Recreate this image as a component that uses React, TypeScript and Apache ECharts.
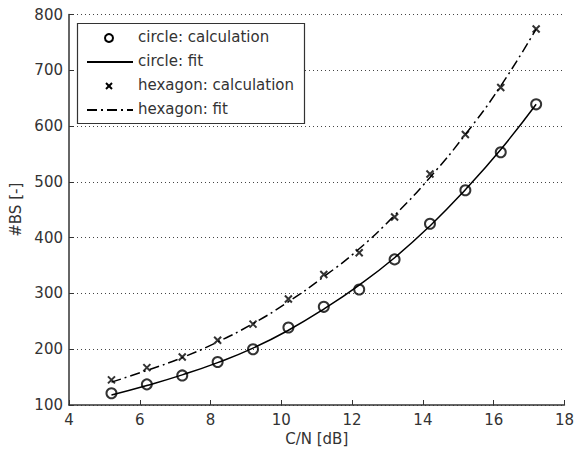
import React, { useEffect, useRef } from "react";
import * as echarts from "echarts";

const xs = [5.2, 6.2, 7.2, 8.2, 9.2, 10.2, 11.2, 12.2, 13.2, 14.2, 15.2, 16.2, 17.2];
const circleCalc = [121, 137, 153, 177, 200, 239, 276, 307, 361, 425, 485, 553, 639];
const hexCalc = [145, 167, 186, 216, 245, 290, 334, 373, 437, 514, 585, 669, 774];
const circleFit = [118, 135, 154, 176, 202, 234, 272, 315, 364, 421, 486, 558, 639];
const hexFit = [141, 162, 185, 213, 246, 285, 330, 380, 440, 508, 585, 672, 774];
const legendLabels = ["circle: calculation", "circle: fit", "hexagon: calculation", "hexagon: fit"];

const FONT = "DejaVu Sans";
const pair = (a: number[]) => xs.map((x, i) => [x, a[i]]);

export default function App() {
  const ref = useRef<HTMLDivElement>(null);
  useEffect(() => {
    const chart = echarts.init(ref.current!, null, { renderer: "svg" });
    const rowY = [38, 62, 86, 110];
    const txt = (i: number) => ({
      type: "text",
      left: 138,
      top: rowY[i] - 9,
      style: { text: legendLabels[i], fontFamily: FONT, fontSize: 15, fill: "#333" },
    });
    chart.setOption({
      animation: false,
      backgroundColor: "#fff",
      grid: { left: 69, right: 11, top: 14.5, bottom: 49 },
      xAxis: {
        type: "value",
        min: 4,
        max: 18,
        interval: 2,
        name: "C/N [dB]",
        nameLocation: "middle",
        nameGap: 24,
        nameTextStyle: { fontFamily: FONT, fontSize: 15, color: "#333" },
        axisLine: { lineStyle: { color: "#333", width: 1.5 } },
        axisTick: { inside: true, length: 5, lineStyle: { color: "#333" } },
        axisLabel: { fontFamily: FONT, fontSize: 15, color: "#333", margin: 7 },
        splitLine: { show: false },
      },
      yAxis: {
        type: "value",
        min: 100,
        max: 800,
        interval: 100,
        name: "#BS [-]",
        nameLocation: "middle",
        nameGap: 44,
        nameTextStyle: { fontFamily: FONT, fontSize: 15, color: "#333" },
        axisLine: { show: true, lineStyle: { color: "#333", width: 1.5 } },
        axisTick: { show: true, inside: true, length: 5, lineStyle: { color: "#333" } },
        axisLabel: { fontFamily: FONT, fontSize: 15, color: "#333", margin: 6 },
        splitLine: { show: true, lineStyle: { type: [1, 3], color: "#444", width: 1 } },
      },
      series: [
        {
          type: "line",
          name: "circle: fit",
          data: pair(circleFit),
          smooth: true,
          showSymbol: false,
          lineStyle: { color: "#000", width: 1.5 },
          z: 2,
        },
        {
          type: "line",
          name: "hexagon: fit",
          data: pair(hexFit),
          smooth: true,
          showSymbol: false,
          lineStyle: { color: "#000", width: 1.5, type: [10, 4, 2, 4] },
          z: 2,
        },
        {
          type: "scatter",
          name: "circle: calculation",
          data: pair(circleCalc),
          symbol: "circle",
          symbolSize: 10,
          itemStyle: { color: "rgba(255,255,255,0)", borderColor: "#000", borderWidth: 2 },
          z: 3,
        },
        {
          type: "scatter",
          name: "hexagon: calculation",
          data: pair(hexCalc),
          symbol: "path://M0,0L10,10M10,0L0,10",
          symbolSize: 7,
          itemStyle: { color: "none", borderColor: "#000", borderWidth: 2 },
          z: 3,
        },
      ],
      graphic: {
        elements: [
          {
            type: "rect",
            z: 100,
            shape: { x: 77.5, y: 23.5, width: 227, height: 100 },
            style: { fill: "#fff", stroke: "#333", lineWidth: 1.2 },
          },
          {
            type: "circle",
            z: 101,
            shape: { cx: 109, cy: rowY[0], r: 4 },
            style: { fill: "none", stroke: "#000", lineWidth: 2 },
          },
          {
            type: "line",
            z: 101,
            shape: { x1: 87, y1: rowY[1], x2: 133, y2: rowY[1] },
            style: { stroke: "#000", lineWidth: 2 },
          },
          {
            type: "line",
            z: 101,
            shape: { x1: 106, y1: rowY[2] - 3, x2: 112, y2: rowY[2] + 3 },
            style: { stroke: "#000", lineWidth: 2 },
          },
          {
            type: "line",
            z: 101,
            shape: { x1: 112, y1: rowY[2] - 3, x2: 106, y2: rowY[2] + 3 },
            style: { stroke: "#000", lineWidth: 2 },
          },
          {
            type: "line",
            z: 101,
            shape: { x1: 87, y1: rowY[3], x2: 133, y2: rowY[3] },
            style: { stroke: "#000", lineWidth: 2, lineDash: [10, 4, 2, 4] },
          },
          { ...txt(0), z: 101 },
          { ...txt(1), z: 101 },
          { ...txt(2), z: 101 },
          { ...txt(3), z: 101 },
        ],
      },
    });
    return () => chart.dispose();
  }, []);
  return (
    <div
      ref={ref}
      style={{ position: "absolute", left: 0, top: 0, width: 577, height: 454, background: "#fff" }}
    />
  );
}
